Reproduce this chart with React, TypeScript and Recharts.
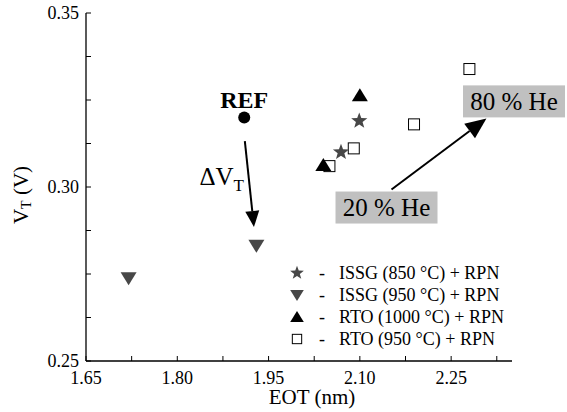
import React from 'react'
import {
  ScatterChart,
  Scatter,
  XAxis,
  YAxis,
  ReferenceLine,
  ReferenceDot,
} from 'recharts'

// EOT (nm) / VT (V) points per process
const ISSG_850 = [
  { eot: 2.069, vt: 0.31 },
  { eot: 2.099, vt: 0.319 },
]
const ISSG_950 = [
  { eot: 1.72, vt: 0.2738 },
  { eot: 1.93, vt: 0.2831 },
]
const RTO_1000 = [
  { eot: 2.04, vt: 0.3063 },
  { eot: 2.1, vt: 0.3264 },
]
const RTO_950 = [
  { eot: 2.05, vt: 0.306 },
  { eot: 2.09, vt: 0.3111 },
  { eot: 2.189, vt: 0.318 },
  { eot: 2.28, vt: 0.3339 },
]
const REF = [{ eot: 1.91, vt: 0.32 }]

const X_TICKS = [1.65, 1.725, 1.8, 1.875, 1.95, 2.025, 2.1, 2.175, 2.25, 2.325]
const X_MAJOR = [1.65, 1.8, 1.95, 2.1, 2.25]
const Y_TICKS = [0.25, 0.2625, 0.275, 0.2875, 0.3, 0.3125, 0.325, 0.3375, 0.35]
const Y_MAJOR = [0.25, 0.3, 0.35]

// arrows: [start, tip]
const ARROWS = [
  [{ x: 1.911, y: 0.3132 }, { x: 1.926, y: 0.2885 }],
  [{ x: 2.152, y: 0.2993 }, { x: 2.308, y: 0.3197 }],
]
const ARROW_HEADS = [
  [16, 7],
  [21, 9],
]

const HE_LABELS = [
  { text: '20 % He', x: 2.1438, y: 0.2941 },
  { text: '80 % He', x: 2.3533, y: 0.3246 },
]

const LEGEND = [
  { label: 'ISSG (850 °C) + RPN', kind: 'star' },
  { label: 'ISSG (950 °C) + RPN', kind: 'down' },
  { label: 'RTO (1000 °C) + RPN', kind: 'up' },
  { label: 'RTO (950 °C) + RPN', kind: 'square' },
]

const FONT = '"Liberation Serif", "Times New Roman", serif'
const GRAY = '#474747'
const BOX = '#c0c0c0'

function starPoints(cx: number, cy: number, ro: number, ri: number) {
  const pts: string[] = []
  for (let i = 0; i < 10; i++) {
    const r = i % 2 === 0 ? ro : ri
    const a = -Math.PI / 2 + (i * Math.PI) / 5
    pts.push(`${cx + r * Math.cos(a)},${cy + r * Math.sin(a)}`)
  }
  return pts.join(' ')
}

function Marker({ kind, cx, cy, s = 1 }: { kind: string; cx: number; cy: number; s?: number }) {
  if (kind === 'star') return <polygon points={starPoints(cx, cy, 8.5 * s, 3.5 * s)} fill={GRAY} />
  if (kind === 'down')
    return (
      <polygon
        points={`${cx - 8 * s},${cy - 6 * s} ${cx + 8 * s},${cy - 6 * s} ${cx},${cy + 7 * s}`}
        fill={GRAY}
      />
    )
  if (kind === 'up')
    return (
      <polygon
        points={`${cx - 8 * s},${cy + 6 * s} ${cx + 8 * s},${cy + 6 * s} ${cx},${cy - 7 * s}`}
        fill="#000"
      />
    )
  if (kind === 'square')
    return (
      <rect x={cx - 5.5 * s} y={cy - 5.5 * s} width={11 * s} height={11 * s} fill="#fff" stroke="#000" strokeWidth={1} />
    )
  return <circle cx={cx} cy={cy} r={6} fill="#000" />
}

const shapeOf = (kind: string) => (p: any) => <Marker kind={kind} cx={p.cx} cy={p.cy} />

const arrowShape = (hl: number, hw: number) => (p: any) => {
  const { x1, y1, x2, y2 } = p
  const dx = x2 - x1
  const dy = y2 - y1
  const len = Math.sqrt(dx * dx + dy * dy)
  const ux = dx / len
  const uy = dy / len
  const bx = x2 - ux * hl
  const by = y2 - uy * hl
  return (
    <g>
      <line x1={x1} y1={y1} x2={bx} y2={by} stroke="#000" strokeWidth={2} />
      <polygon
        points={`${x2},${y2} ${bx - uy * hw},${by + ux * hw} ${bx + uy * hw},${by - ux * hw}`}
        fill="#000"
      />
    </g>
  )
}

const heShape = (text: string) => (p: any) => (
  <g>
    <rect x={p.cx - 51} y={p.cy - 16} width={102} height={32} fill={BOX} />
    <text x={p.cx} y={p.cy + 8.5} textAnchor="middle" fontFamily={FONT} fontSize={25} fill="#000">
      {text}
    </text>
  </g>
)

const refTextShape = (p: any) => (
  <text x={p.cx} y={p.cy + 8} textAnchor="middle" fontFamily={FONT} fontSize={24} fontWeight="bold" fill="#000">
    REF
  </text>
)

const dvtShape = (p: any) => (
  <text x={p.cx} y={p.cy + 8} textAnchor="middle" fontFamily={FONT} fontSize={25} fill="#000">
    ΔV
    <tspan fontSize={17} dy={6}>T</tspan>
  </text>
)

const tickStyle = { fill: '#000', fontSize: 18, fontFamily: FONT }

function XTitle(props: any) {
  const vb = props.viewBox
  return (
    <text x={vb.x + vb.width / 2 + 13} y={vb.y + 43} textAnchor="middle" fontFamily={FONT} fontSize={21} fill="#000">
      EOT (nm)
    </text>
  )
}

function YTitle(props: any) {
  const vb = props.viewBox
  const cx = 21
  const cy = vb.y + vb.height / 2 + 8
  return (
    <text
      x={cx}
      y={cy}
      transform={`rotate(-90 ${cx} ${cy})`}
      textAnchor="middle"
      dominantBaseline="central"
      fontFamily={FONT}
      fontSize={21}
      fill="#000"
    >
      V<tspan fontSize={14} dy={5}>T</tspan>
      <tspan dy={-5}> (V)</tspan>
    </text>
  )
}

const axisStroke = { stroke: '#000', strokeWidth: 1.3 }

export default function App() {
  return (
    <div style={{ position: 'absolute', left: 0, top: 0, width: 567, height: 412, background: '#fff' }}>
      <ScatterChart width={567} height={412} margin={{ top: 13, right: 55, bottom: 0, left: 0 }}>
        <XAxis
          type="number"
          dataKey="eot"
          domain={[1.65, 2.35]}
          ticks={X_TICKS}
          interval={0}
          allowDataOverflow
          height={51}
          tickSize={-5}
          tickMargin={15}
          tick={tickStyle}
          tickFormatter={(v: number) => (X_MAJOR.includes(v) ? v.toFixed(2) : '')}
          axisLine={axisStroke}
          tickLine={{ stroke: '#000' }}
          label={<XTitle />}
        />
        <XAxis
          xAxisId="top"
          orientation="top"
          type="number"
          dataKey="eot"
          domain={[1.65, 2.35]}
          ticks={X_TICKS}
          interval={0}
          allowDataOverflow
          height={0}
          tickSize={-5}
          tick={false}
          axisLine={axisStroke}
          tickLine={{ stroke: '#000' }}
        />
        <YAxis
          type="number"
          dataKey="vt"
          domain={[0.25, 0.35]}
          ticks={Y_TICKS}
          interval={0}
          allowDataOverflow
          width={86}
          tickSize={-5}
          tickMargin={12}
          tick={tickStyle}
          tickFormatter={(v: number) => (Y_MAJOR.includes(v) ? v.toFixed(2) : '')}
          axisLine={axisStroke}
          tickLine={{ stroke: '#000' }}
          label={<YTitle />}
        />
        <YAxis
          yAxisId="right"
          orientation="right"
          type="number"
          dataKey="vt"
          domain={[0.25, 0.35]}
          ticks={Y_TICKS}
          interval={0}
          allowDataOverflow
          width={0}
          tickSize={-5}
          tick={false}
          axisLine={axisStroke}
          tickLine={{ stroke: '#000' }}
        />
        <Scatter data={RTO_950} shape={shapeOf('square')} isAnimationActive={false} />
        <Scatter data={ISSG_850} shape={shapeOf('star')} isAnimationActive={false} />
        <Scatter data={ISSG_950} shape={shapeOf('down')} isAnimationActive={false} />
        <Scatter data={RTO_1000} shape={shapeOf('up')} isAnimationActive={false} />
        <Scatter data={REF} shape={shapeOf('ref')} isAnimationActive={false} />
        {ARROWS.map((seg, i) => (
          <ReferenceLine
            key={i}
            segment={seg}
            shape={arrowShape(ARROW_HEADS[i][0], ARROW_HEADS[i][1])}
            ifOverflow="visible"
          />
        ))}
        <ReferenceDot x={1.91} y={0.325} r={0} shape={refTextShape} ifOverflow="visible" />
        <ReferenceDot x={1.873} y={0.3029} r={0} shape={dvtShape} ifOverflow="visible" />
        {HE_LABELS.map((h) => (
          <ReferenceDot key={h.text} x={h.x} y={h.y} r={0} shape={heShape(h.text)} ifOverflow="visible" />
        ))}
      </ScatterChart>
      {LEGEND.map((item, i) => (
        <div
          key={item.label}
          style={{
            position: 'absolute',
            left: 288,
            top: 262 + i * 22,
            height: 22,
            lineHeight: '22px',
            fontFamily: FONT,
            fontSize: 18,
            color: '#000',
            whiteSpace: 'nowrap',
          }}
        >
          <svg width={18} height={22} style={{ position: 'absolute', left: 0, top: 0 }}>
            <Marker kind={item.kind} cx={9} cy={11} s={0.85} />
          </svg>
          <span style={{ position: 'absolute', left: 31 }}>-</span>
          <span style={{ position: 'absolute', left: 51 }}>{item.label}</span>
        </div>
      ))}
    </div>
  )
}
